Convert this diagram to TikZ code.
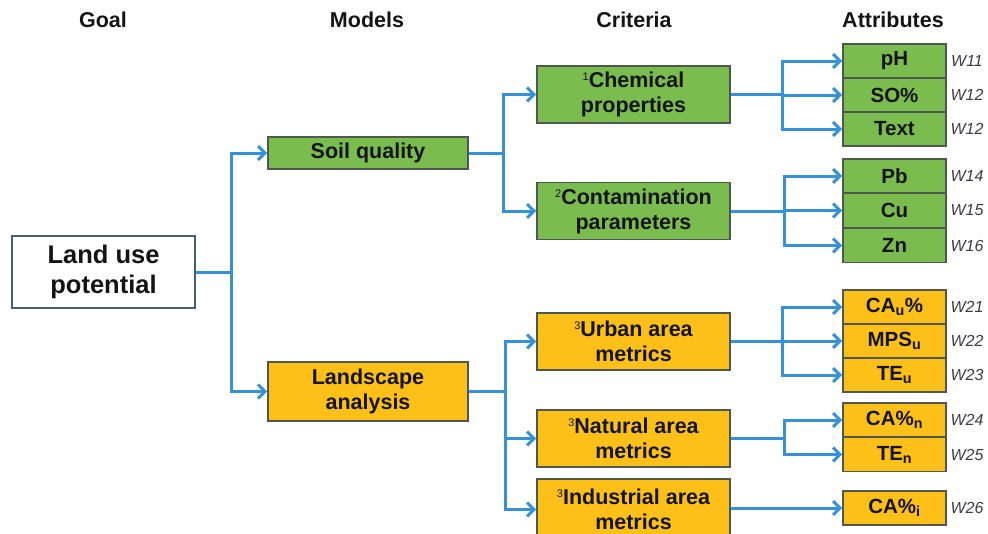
\documentclass[tikz,border=0pt]{standalone}
\usepackage{fontspec}
\setmainfont{Liberation Sans}
\usetikzlibrary{arrows.meta}
\definecolor{grn}{RGB}{122,188,78}
\definecolor{org}{RGB}{252,192,24}
\definecolor{edgec}{RGB}{78,88,78}
\definecolor{goaledge}{RGB}{70,95,110}
\definecolor{arr}{RGB}{52,145,218}
\definecolor{wcol}{RGB}{60,60,72}
\begin{document}
\begin{tikzpicture}[x=1pt,y=-1pt,
  box/.style={draw=edgec, line width=1.6pt, align=center, inner sep=0pt, text=black!92,
    font=\bfseries\fontsize{21.5}{25}\selectfont},
  gbox/.style={box, fill=grn},
  obox/.style={box, fill=org},
  goalbox/.style={box, draw=goaledge, fill=white, font=\bfseries\fontsize{25.5}{30}\selectfont},
  crit/.style={minimum width=193pt, minimum height=57pt},
  model/.style={minimum width=200pt},
  attr/.style={minimum width=103pt, minimum height=34pt, font=\bfseries\fontsize{20.5}{22}\selectfont},
  wlab/.style={font=\itshape\fontsize{16}{17}\selectfont, text=wcol, inner sep=0pt},
  head/.style={font=\bfseries\fontsize{21.5}{24}\selectfont, text=black!92, inner sep=0pt},
  conn/.style={draw=arr, line width=3pt, -{Straight Barb[length=7pt,width=14pt]}}
]
\useasboundingbox (0,0) rectangle (988,533);

% headers
\node[head] (hgoal) at (103,20) {Goal};
\node[head] (hmod) at (367,20) {Models};
\node[head] (hcrit) at (634,20) {Criteria};
\node[head] (hatt) at (893,20) {Attributes};

% goal
\node[goalbox, minimum width=183pt, minimum height=72pt] (goal) at (103.5,272) {Land use\\potential};

% models
\node[gbox, model, minimum height=32pt] (soil) at (368,153) {Soil quality};
\node[obox, model, minimum height=59pt] (land) at (368,391.5) {Landscape\\analysis};

% criteria
\node[gbox, crit] (chem) at (633.5,94.5) {{\mdseries\fontsize{11}{11}\selectfont\raisebox{7pt}{1}}Chemical\\properties};
\node[gbox, crit] (cont) at (633.5,211) {{\mdseries\fontsize{11}{11}\selectfont\raisebox{7pt}{2}}Contamination\\parameters};
\node[obox, crit] (urb) at (633.5,341.5) {{\mdseries\fontsize{11}{11}\selectfont\raisebox{7pt}{3}}Urban area\\metrics};
\node[obox, crit] (nat) at (633.5,438.5) {{\mdseries\fontsize{11}{11}\selectfont\raisebox{7pt}{3}}Natural area\\metrics};
\node[obox, crit, minimum height=61pt] (ind) at (633.5,509.5) {{\mdseries\fontsize{11}{11}\selectfont\raisebox{7pt}{3}}Industrial area\\metrics};

% attributes
\node[gbox, attr] (ph) at (894.5,61) {pH};
\node[gbox, attr] (so) at (894.5,95) {SO\%};
\node[gbox, attr] (tx) at (894.5,129) {Text};
\node[gbox, attr] (pb) at (894.5,176) {Pb};
\node[gbox, attr] (cu) at (894.5,210.5) {Cu};
\node[gbox, attr] (zn) at (894.5,245.5) {Zn};
\node[obox, attr] (cau) at (894.5,307) {CA\textsubscript{u}\%};
\node[obox, attr] (mps) at (894.5,341) {MPS\textsubscript{u}};
\node[obox, attr] (teu) at (894.5,375) {TE\textsubscript{u}};
\node[obox, attr] (can) at (894.5,420) {CA\%\textsubscript{n}};
\node[obox, attr] (ten) at (894.5,454.5) {TE\textsubscript{n}};
\node[obox, attr] (cai) at (894.5,508) {CA\%\textsubscript{i}};

% weights
\node[wlab] (w1) at (967,61) {W11};
\node[wlab] (w2) at (967,95) {W12};
\node[wlab] (w3) at (967,129) {W12};
\node[wlab] (w4) at (967,176) {W14};
\node[wlab] (w5) at (967,210.5) {W15};
\node[wlab] (w6) at (967,245.5) {W16};
\node[wlab] (w7) at (967,307) {W21};
\node[wlab] (w8) at (967,341) {W22};
\node[wlab] (w9) at (967,375) {W23};
\node[wlab] (w10) at (967,420) {W24};
\node[wlab] (w11) at (967,454.5) {W25};
\node[wlab] (w12) at (967,508) {W26};

% connectors
\draw[conn] (goal.east) -- ++(36,0) |- (soil.west);
\draw[conn] (goal.east) -- ++(36,0) |- (land.west);

\draw[conn] (soil.east) -- ++(35,0) |- (chem.west);
\draw[conn] (soil.east) -- ++(35,0) |- (cont.west);

\draw[conn] (land.east) -- ++(37,0) |- (urb.west);
\draw[conn] (land.east) -- ++(37,0) |- (nat.west);
\draw[conn] (land.east) -- ++(37,0) |- (ind.west);

\draw[conn] (chem.east) -- ++(52,0) |- (ph.west);
\draw[conn] (chem.east) -- ++(52,0) |- (so.west);
\draw[conn] (chem.east) -- ++(52,0) |- (tx.west);

\draw[conn] (cont.east) -- ++(54,0) |- (pb.west);
\draw[conn] (cont.east) -- ++(54,0) |- (cu.west);
\draw[conn] (cont.east) -- ++(54,0) |- (zn.west);

\draw[conn] (urb.east) -- ++(52,0) |- (cau.west);
\draw[conn] (urb.east) -- ++(52,0) |- (mps.west);
\draw[conn] (urb.east) -- ++(52,0) |- (teu.west);

\draw[conn] (nat.east) -- ++(54,0) |- (can.west);
\draw[conn] (nat.east) -- ++(54,0) |- (ten.west);

\draw[conn] (ind.east |- cai.west) -- (cai.west);
\end{tikzpicture}
\end{document}
